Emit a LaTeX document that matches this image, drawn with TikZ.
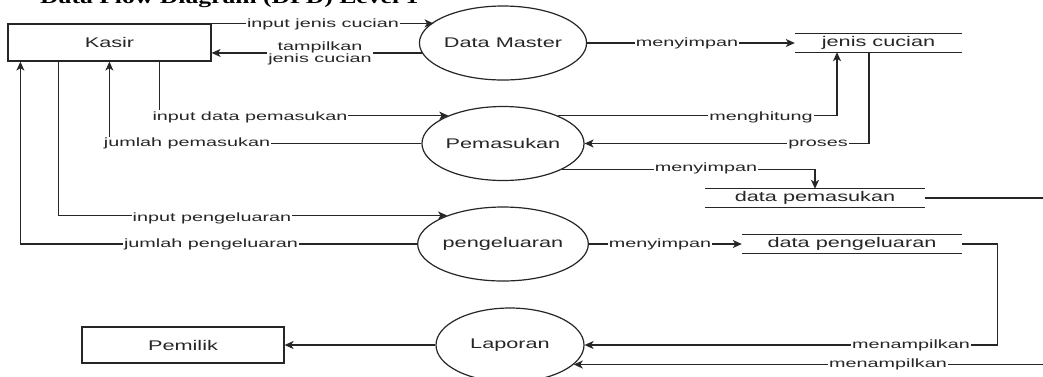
\documentclass[tikz,border=0pt]{standalone}
\usepackage{fontspec}
\setmainfont{Liberation Sans}
\newfontfamily\nodefont[FakeStretch=1.55]{Liberation Sans}
\newfontfamily\edgefont[FakeStretch=1.65]{Liberation Sans}
\newfontfamily\titlefont[FakeStretch=1.35]{Liberation Serif}
\usetikzlibrary{arrows.meta,shapes.geometric}
\definecolor{ink}{HTML}{262626}
\tikzset{
  proc/.style={ellipse, draw=ink, line width=1.2pt, minimum width=148pt, minimum height=74pt, inner sep=0pt, text=ink, font=\nodefont\fontsize{14}{16}\selectfont},
  ent/.style={rectangle, draw=ink, line width=1.2pt, minimum width=203pt, minimum height=37pt, inner sep=0pt, text=ink, font=\nodefont\fontsize{14}{16}\selectfont},
  store/.style={rectangle, minimum height=18pt, inner sep=0pt, text=ink, font=\nodefont\fontsize{14}{16}\selectfont},
  storeline/.style={draw=ink, line width=1.2pt},
  flow/.style={draw=ink, line width=1.2pt, -{Stealth[length=9pt,width=8pt,inset=2.5pt]}},
  lblbase/.style={fill=white, inner sep=1pt, text=ink, font=\edgefont\fontsize{12}{12}\selectfont},
  lbl/.style={lblbase, text height=9pt, text depth=2.5pt},
}
\begin{document}
\begin{tikzpicture}[x=1pt,y=-1pt]
\useasboundingbox (0,0) rectangle (1043,376);
\fill[white] (0,0) rectangle (1043,376);

% title (cut off at the top, as in the reference)
\node[anchor=base west, inner sep=0pt, text=black, font=\titlefont\bfseries\fontsize{19}{21}\selectfont] (title) at (40,3.5) {Data Flow Diagram (DFD) Level 1};

% entities
\node[ent] (kasir) at (109.5,42.5) {Kasir};
\node[ent, minimum width=202pt, minimum height=36pt] (pemilik) at (183,345) {Pemilik};

% processes
\node[proc] (dm) at (503,43) {Data Master};
\node[proc] (pem) at (503,143.5) {Pemasukan};
\node[proc] (pen) at (503,244) {pengeluaran};
\node[proc] (lap) at (510,345) {Laporan};

% data stores
\node[store, minimum width=167pt] (jc) at (878.5,43) {jenis cucian};
\node[store, minimum width=220pt] (dpem) at (815,198) {data pemasukan};
\node[store, minimum width=220pt] (dpen) at (852,244) {data pengeluaran};
\foreach \s in {jc,dpem,dpen}{
  \draw[storeline] (\s.north west) -- (\s.north east);
  \draw[storeline] (\s.south west) -- (\s.south east);
}

% flows
\draw[flow] (kasir.north east) -- (kasir.north east -| dm.163);
\draw[flow] (dm.187) -- (dm.187 -| kasir.east);
\draw[flow] (dm.east) -- (jc.west);
\draw[flow] ([xshift=152pt]kasir.south west) |- (pem.153);
\draw[flow] (pem.west) -| ([xshift=102pt]kasir.south west);
\draw[flow] ([xshift=51pt]kasir.south west) |- (pen.153);
\draw[flow] (pen.west) -| ([xshift=13pt]kasir.south west);
\draw[flow] (pem.27) -| ([xshift=-41.5pt]jc.south);
\draw[flow] ([xshift=-9.5pt]jc.south) |- (pem.east);
\draw[flow] (pem.336) -| (dpem.north);
\draw[flow] (pen.east) -- (pen.east -| dpen.west);
\draw[flow] (dpen.east) -- ++(35,0) |- (lap.east);
\draw[flow] (dpem.east) -- ++(150,0) |- (lap.343);
\draw[flow] (lap.west) -- (pemilik.east);

% labels
\node[lbl] (l1) at (323,24) {input jenis cucian};
\node[lblbase, align=center] (l2) at (320,53) {tampilkan\\jenis cucian};
\node[lbl] (l3) at (687,43) {menyimpan};
\node[lbl] (l4) at (250,117) {input data pemasukan};
\node[lbl] (l5) at (187,143.5) {jumlah pemasukan};
\node[lbl] (l6) at (212,218) {input pengeluaran};
\node[lbl] (l7) at (211,244) {jumlah pengeluaran};
\node[lbl] (l8) at (761,117) {menghitung};
\node[lbl] (l9) at (818,143.5) {proses};
\node[lbl] (l10) at (706,168) {menyimpan};
\node[lbl] (l11) at (660,244) {menyimpan};
\node[lbl] (l12) at (911,345) {menampilkan};
\node[lbl] (l13) at (888,364) {menampilkan};
\end{tikzpicture}
\end{document}
